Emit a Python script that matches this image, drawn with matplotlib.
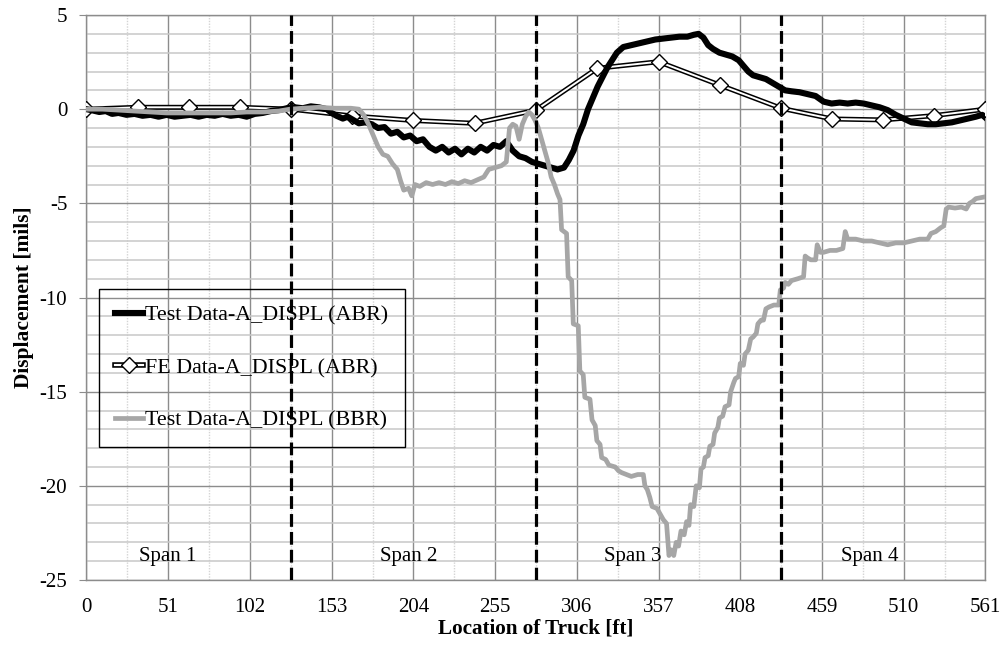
import matplotlib
matplotlib.use("Agg")
import matplotlib.pyplot as plt
from matplotlib.lines import Line2D
from matplotlib.ticker import MultipleLocator

plt.rcParams['font.family'] = ['Liberation Serif', 'DejaVu Serif']
plt.rcParams['axes.unicode_minus'] = False

# truck location [ft] / displacement [mils]
test_abr_x = [0, 3, 8, 12, 16, 20, 25, 30, 35, 40, 45, 50, 55, 60, 65, 70, 75, 80, 85, 90,
              95, 100, 105, 110, 115, 120, 125, 130, 135, 140, 145, 150, 153, 156, 160, 163,
              167, 170, 174, 178, 182, 186, 190, 194, 198, 202, 206, 210, 214, 218, 222, 226,
              230, 234, 238, 242, 246, 250, 254, 258, 262, 266, 270, 274, 278, 282, 286, 290,
              294, 298, 301, 304, 307, 310, 313, 316, 319, 322, 325, 328, 331, 335, 340, 345,
              350, 355, 360, 365, 370, 375, 379, 382, 385, 388, 391, 395, 399, 403, 407, 410,
              413, 416, 420, 424, 428, 432, 436, 440, 445, 450, 455, 460, 465, 470, 475, 480,
              485, 490, 495, 500, 505, 510, 515, 520, 525, 530, 535, 540, 545, 550, 555, 559, 561]
test_abr_y = [0.0, -0.05, -0.15, -0.1, -0.25, -0.2, -0.3, -0.25, -0.35, -0.3, -0.4, -0.3, -0.4,
              -0.35, -0.3, -0.4, -0.3, -0.35, -0.25, -0.35, -0.3, -0.4, -0.25, -0.2, -0.1, -0.05,
              0.05, 0.1, 0.05, 0.15, 0.1, 0.0, -0.2, -0.35, -0.5, -0.4, -0.6, -0.75, -0.7, -0.8,
              -1.0, -0.95, -1.3, -1.2, -1.5, -1.4, -1.7, -1.6, -2.0, -2.2, -2.0, -2.3, -2.1, -2.4,
              -2.1, -2.3, -2.0, -2.2, -1.9, -2.0, -1.7, -2.2, -2.5, -2.6, -2.8, -2.9, -3.0, -3.1,
              -3.2, -3.1, -2.7, -2.2, -1.4, -0.8, 0.0, 0.6, 1.2, 1.7, 2.2, 2.6, 3.0, 3.3, 3.4, 3.5,
              3.6, 3.7, 3.75, 3.8, 3.85, 3.85, 3.95, 4.0, 3.8, 3.4, 3.2, 3.0, 2.9, 2.8, 2.6, 2.3,
              2.0, 1.8, 1.7, 1.6, 1.4, 1.2, 1.0, 0.95, 0.9, 0.8, 0.7, 0.4, 0.3, 0.35, 0.3, 0.35,
              0.3, 0.2, 0.1, -0.05, -0.3, -0.5, -0.7, -0.75, -0.8, -0.8, -0.75, -0.7, -0.6, -0.5,
              -0.4, -0.3, -0.45]

test_bbr_x = [0, 10, 20, 30, 40, 50, 60, 70, 80, 90, 100, 110, 120, 127, 135, 145, 155, 165, 170,
              173, 176, 179, 182, 185, 188, 191, 194, 196, 198, 201, 203, 205, 208, 212, 216, 220,
              224, 228, 232, 236, 240, 244, 248, 251, 255, 259, 262, 264, 266, 268, 270, 272, 274,
              276, 278, 280, 282, 284, 286, 288, 290, 292, 294, 295.5, 296.5, 299.6, 300.6, 302.8,
              303.8, 306.9, 307.9, 310, 311, 314.2, 315.5, 317.5, 318.5, 320.5, 321.5, 324, 326,
              330, 332, 334, 337, 340, 344, 347.5, 348.5, 350, 351.5, 353, 356, 358, 360, 362,
              363.5, 365, 366.5, 368, 369.5, 371, 373, 374.5, 376, 377, 379, 380.5, 382.5, 383.5,
              385, 386, 388, 389, 391, 392, 394, 395, 397, 398.5, 401, 402, 404, 405, 407, 408,
              410, 411, 413, 414.5, 416, 418, 419, 421, 422.5, 424, 426, 429, 432, 433, 435, 436,
              438, 440, 444, 447.5, 448.5, 450, 452, 455, 456, 458, 460, 464, 468, 472, 473.5,
              475, 480, 485, 490, 495, 500, 505, 510, 515, 520, 525, 527, 530, 533, 535, 536.5,
              538, 542, 546, 549, 551, 553, 555, 558, 561]
test_bbr_y = [0.0, 0.0, -0.05, -0.1, -0.15, -0.2, -0.2, -0.2, -0.2, -0.2, -0.15, -0.15, -0.1, 0.0,
              0.05, 0.1, 0.05, 0.05, 0.0, -0.3, -0.8, -1.4, -2.0, -2.4, -2.5, -2.9, -3.2, -3.8,
              -4.3, -4.2, -4.6, -4.0, -4.1, -3.9, -4.0, -3.9, -4.0, -3.85, -3.95, -3.8, -3.9,
              -3.75, -3.6, -3.2, -3.1, -3.0, -2.8, -1.0, -0.8, -0.9, -1.6, -0.8, -0.4, -0.15,
              -0.3, -0.6, -1.0, -1.6, -2.2, -2.8, -3.6, -4.0, -4.5, -4.8, -6.4, -6.6, -8.9, -9.1,
              -11.4, -11.5, -13.9, -14.1, -15.3, -15.4, -16.5, -16.8, -17.6, -17.8, -18.5, -18.6,
              -18.9, -19.0, -19.2, -19.3, -19.4, -19.5, -19.4, -19.4, -20.0, -20.2, -20.6, -21.1,
              -21.2, -21.5, -21.8, -22.0, -23.7, -23.4, -23.7, -23.0, -23.2, -22.4, -22.6, -21.9,
              -22.1, -21.0, -21.1, -20.0, -20.1, -19.1, -19.0, -18.5, -18.4, -17.9, -17.8, -17.2,
              -16.9, -16.4, -16.3, -15.8, -15.7, -15.0, -14.5, -14.3, -14.2, -13.5, -13.6, -13.0,
              -12.8, -12.2, -12.1, -11.9, -11.4, -11.2, -11.2, -10.6, -10.5, -10.4, -10.4, -9.6,
              -9.5, -9.2, -9.3, -9.1, -9.0, -8.9, -7.8, -7.9, -8.0, -8.0, -7.2, -7.6, -7.6, -7.5,
              -7.5, -7.4, -6.5, -6.9, -6.9, -7.0, -7.0, -7.1, -7.2, -7.1, -7.1, -7.0, -6.9, -6.9,
              -6.6, -6.5, -6.3, -6.2, -5.3, -5.2, -5.25, -5.2, -5.3, -5.0, -4.9, -4.75, -4.7, -4.65]

fe_x = [0, 31.875, 63.75, 95.625, 127.5, 165.75, 204, 242.25, 280.5, 318.75, 357, 395.25,
        433.5, 465.375, 497.25, 529.125, 561]
fe_y = [0.0, 0.1, 0.1, 0.1, 0.0, -0.36, -0.6, -0.75, -0.05, 2.17, 2.52, 1.28, 0.05, -0.52,
        -0.57, -0.34, 0.0]

span_bounds = [127.5, 280.5, 433.5]
span_names = ['Span 1', 'Span 2', 'Span 3', 'Span 4']
span_label_x = [50.5, 201, 340.7, 489]
span_label_y = -23.76

fig = plt.figure(figsize=(10.03, 6.5), dpi=100)
ax = fig.add_axes([0.0862, 0.1077, 0.8963, 0.8692])

ax.set_xlim(0, 561)
ax.set_ylim(-25, 5)
ax.xaxis.set_major_locator(MultipleLocator(51))
ax.xaxis.set_minor_locator(MultipleLocator(25.5))
ax.yaxis.set_major_locator(MultipleLocator(5))
ax.yaxis.set_minor_locator(MultipleLocator(1))

ax.set_axisbelow(True)
ax.grid(which='major', axis='both', color='#8c8c8c', lw=1.0)
ax.grid(which='minor', axis='y', color='#c8c8c8', lw=1.1)
ax.grid(which='minor', axis='x', color='#d4d4d4', lw=1.0, ls=(0, (1, 1)))

for s in ax.spines.values():
    s.set_color('#8c8c8c')
    s.set_linewidth(1.0)

ax.tick_params(axis='x', which='both', length=0, pad=13, labelsize=15)
ax.tick_params(axis='y', which='major', length=4.8, color='#8c8c8c', pad=9, labelsize=15)
ax.tick_params(axis='y', which='minor', length=0)

# FE results: black outline with white core and hollow diamonds
ax.plot(fe_x, fe_y, color='black', lw=3.6, zorder=3)
ax.plot(fe_x, fe_y, color='white', lw=1.4, marker='D', ms=8, mfc='white', mec='black',
        mew=1.0, zorder=3)
ax.plot(test_abr_x, test_abr_y, color='black', lw=4.4, zorder=4)
ax.plot(test_bbr_x, test_bbr_y, color='#a6a6a6', lw=3.4, zorder=5)

for xb in span_bounds:
    ax.axvline(xb, color='black', lw=2.3, ls=(0, (4, 1.6)), zorder=7)

for name, xs in zip(span_names, span_label_x):
    ax.text(xs, span_label_y, name, ha='center', va='center', fontsize=15, zorder=8)

ax.set_xlabel('Location of Truck [ft]', fontsize=15.2, fontweight='bold')
ax.set_ylabel('Displacement [mils]', fontsize=15.5, fontweight='bold')
ax.xaxis.set_label_coords(0.5, -0.069)
ax.yaxis.set_label_coords(-0.058, 0.5)

h_abr = Line2D([], [], color='black', lw=4.4)
h_fe = (Line2D([], [], color='black', lw=4.0),
        Line2D([], [], color='white', lw=1.6, marker='D', ms=8, mfc='white', mec='black', mew=1.0))
h_bbr = Line2D([], [], color='#a6a6a6', lw=3.4)
leg = ax.legend([h_abr, h_fe, h_bbr],
                ['Test Data-A_DISPL (ABR)', 'FE Data-A_DISPL (ABR)', 'Test Data-A_DISPL (BBR)'],
                loc='upper left', bbox_to_anchor=(99 / 1003, 1 - 289 / 650),
                bbox_transform=fig.transFigure, borderaxespad=0, fontsize=15.8,
                handlelength=1.25, handletextpad=0.1, labelspacing=1.45, borderpad=0.75,
                fancybox=False, framealpha=1, facecolor='none', edgecolor='black')
leg.get_frame().set_linewidth(1.0)
leg.set_zorder(6)

fig.savefig('out.png', dpi=100)
